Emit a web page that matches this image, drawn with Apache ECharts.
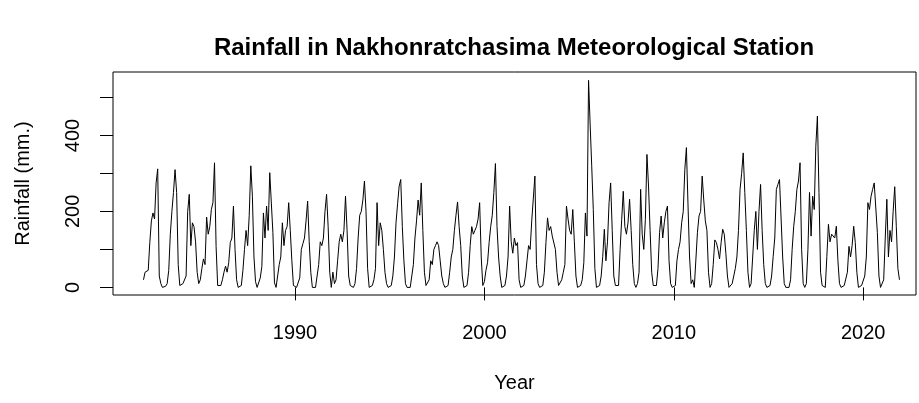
<!DOCTYPE html>
<html lang="en">
  <head>
    <meta charset="UTF-8" />
    <title>Rainfall in Nakhonratchasima</title>
    <style>
      html, body { margin: 0; padding: 0; background: #fff; }
    </style>
  </head>
  <body>
    <div id="main" style="width: 919px; height: 403px"></div>

    <script src="https://cdn.jsdelivr.net/npm/echarts@6/dist/echarts.min.js"></script>
    <script>
      // ===== data =====
      const startYear = 1982
      const yearTicks = [1990, 2000, 2010, 2020]
      const rainTicks = [0, 100, 200, 300, 400, 500]
      const rainLabels = [0, 200, 400]

      // monthly rainfall (mm.), one row per year, Jan..Dec
      const monthlyRain = [
        [20, 40, 35, 45, 118, 175, 196, 180, 275, 312, 30, 10], // 1982
        [0, 0, 3, 10, 45, 140, 200, 250, 310, 250, 60, 5], // 1983
        [0, 10, 5, 30, 200, 245, 110, 170, 160, 120, 40, 10], // 1984
        [20, 50, 75, 60, 185, 140, 160, 205, 223, 328, 108, 5], // 1985
        [0, 5, 20, 40, 56, 40, 65, 118, 130, 214, 100, 20], // 1986
        [0, 0, 5, 45, 100, 150, 110, 190, 320, 240, 80, 15], // 1987
        [0, 5, 25, 55, 196, 130, 214, 150, 302, 298, 144, 12], // 1988
        [0, 5, 60, 80, 170, 110, 150, 160, 223, 150, 70, 5], // 1989
        [0, 0, 5, 25, 100, 115, 130, 175, 227, 120, 40, 0], // 1990
        [0, 0, 5, 60, 120, 110, 130, 200, 245, 160, 40, 0], // 1991
        [40, 10, 20, 70, 120, 140, 120, 150, 240, 150, 30, 5], // 1992
        [0, 0, 10, 50, 130, 190, 200, 230, 280, 200, 50, 0], // 1993
        [0, 5, 20, 50, 223, 110, 170, 150, 100, 40, 10, 0], // 1994
        [0, 5, 30, 80, 170, 220, 267, 284, 160, 70, 10, 0], // 1995
        [0, 0, 5, 60, 130, 175, 230, 190, 275, 150, 40, 5], // 1996
        [0, 20, 70, 60, 100, 110, 120, 110, 70, 30, 10, 0], // 1997
        [0, 5, 40, 80, 100, 150, 190, 225, 160, 110, 30, 0], // 1998
        [0, 5, 40, 110, 160, 140, 150, 160, 180, 223, 80, 5], // 1999
        [15, 45, 65, 118, 160, 190, 250, 326, 160, 80, 30, 0], // 2000
        [0, 5, 30, 80, 214, 120, 90, 130, 110, 118, 20, 0], // 2001
        [0, 5, 30, 70, 110, 100, 175, 180, 293, 60, 10, 0], // 2002
        [0, 5, 40, 118, 183, 150, 160, 135, 135, 100, 40, 5], // 2003
        [5, 20, 40, 60, 214, 180, 150, 140, 205, 120, 30, 0], // 2004
        [0, 5, 20, 65, 196, 135, 545, 430, 320, 205, 50, 0], // 2005
        [0, 5, 30, 82, 153, 70, 120, 223, 275, 150, 30, 5], // 2006
        [0, 5, 100, 179, 253, 160, 140, 170, 232, 150, 60, 10], // 2007
        [0, 10, 40, 258, 140, 100, 179, 350, 267, 150, 40, 5], // 2008
        [0, 5, 50, 144, 188, 130, 170, 200, 214, 70, 10, 0], // 2009
        [0, 5, 70, 100, 120, 170, 200, 310, 368, 220, 80, 10], // 2010
        [20, 0, 0, 145, 188, 200, 293, 230, 175, 150, 40, 0], // 2011
        [10, 60, 125, 118, 100, 75, 118, 153, 140, 90, 30, 0], // 2012
        [0, 10, 30, 50, 80, 150, 258, 300, 354, 250, 150, 40], // 2013
        [0, 10, 80, 150, 200, 100, 200, 271, 150, 60, 10, 0], // 2014
        [0, 5, 30, 82, 130, 258, 271, 284, 284, 80, 10, 0], // 2015
        [0, 0, 20, 100, 161, 200, 258, 280, 328, 100, 10, 0], // 2016
        [10, 100, 250, 135, 240, 205, 372, 451, 250, 40, 5, 0], // 2017
        [0, 82, 166, 120, 140, 140, 130, 161, 70, 10, 0, 0], // 2018
        [5, 10, 40, 108, 80, 110, 161, 118, 40, 0, 0, 5], // 2019
        [10, 30, 80, 223, 205, 240, 258, 275, 270, 144, 30, 0], // 2020
        [0, 20, 130, 232, 80, 150, 120, 200, 265, 160, 50, 20] // 2021
      ]
      // ===== data =====

      const points = []
      monthlyRain.forEach((row, i) => {
        row.forEach((v, j) => {
          points.push([startYear + i + j / 12, v])
        })
      })

      const font = 'Liberation Sans, Arial, sans-serif'
      const chart = echarts.init(document.getElementById('main'))

      const option = {
        backgroundColor: '#fff',
        animation: false,
        title: {
          text: 'Rainfall in Nakhonratchasima Meteorological Station',
          left: 514,
          top: 36,
          padding: 0,
          textAlign: 'center',
          textStyle: {
            fontFamily: font,
            fontSize: 24,
            fontWeight: 'bold',
            color: '#000'
          }
        },
        grid: {
          left: 113,
          right: 3,
          top: 72,
          bottom: 108,
          show: true,
          borderColor: '#000',
          borderWidth: 1
        },
        xAxis: {
          type: 'value',
          min: 1980.39,
          max: 2022.79,
          name: 'Year',
          nameLocation: 'middle',
          nameGap: 78,
          nameTextStyle: { fontFamily: font, fontSize: 20, color: '#000' },
          axisLine: { show: false },
          splitLine: { show: false },
          axisTick: {
            show: true,
            length: 13,
            customValues: yearTicks,
            lineStyle: { color: '#000' }
          },
          axisLabel: {
            customValues: yearTicks,
            formatter: v => String(v),
            margin: 28,
            fontFamily: font,
            fontSize: 20,
            color: '#000'
          }
        },
        yAxis: {
          type: 'value',
          min: -20,
          max: 567,
          name: 'Rainfall (mm.)',
          nameLocation: 'middle',
          nameGap: 80,
          nameTextStyle: { fontFamily: font, fontSize: 20, color: '#000' },
          axisLine: { show: false },
          splitLine: { show: false },
          axisTick: {
            show: true,
            length: 13,
            customValues: rainTicks,
            lineStyle: { color: '#000' }
          },
          axisLabel: {
            customValues: rainLabels,
            rotate: 90,
            margin: 30,
            fontFamily: font,
            fontSize: 20,
            color: '#000'
          }
        },
        series: [
          {
            type: 'line',
            data: points,
            showSymbol: false,
            lineStyle: { color: '#000', width: 1 }
          }
        ]
      }

      chart.setOption(option)
    </script>
  </body>
</html>
